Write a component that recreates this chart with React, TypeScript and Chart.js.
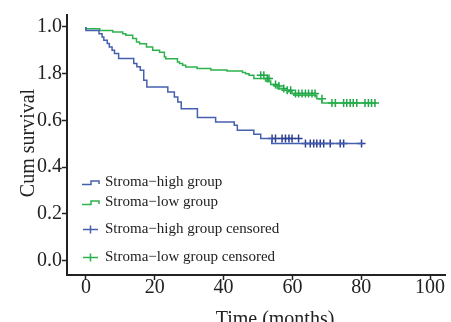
import React, { useEffect, useRef } from "react";
import { Chart, registerables } from "chart.js";
Chart.register(...registerables);

// Kaplan-Meier step data (time in months, cumulative survival)
const highTimes = [0, 3.8, 4.7, 5.2, 6.2, 6.8, 7.6, 8.3, 9.5, 13.9, 14.8, 15.8, 16.8, 17.7, 23.8, 25.7, 26.7, 27.7, 32.4, 37.7, 43.1, 44.0, 48.8, 50.8, 54.0, 62.5, 80.6];
const highSurv = [1.0, 0.985, 0.971, 0.957, 0.943, 0.929, 0.914, 0.9, 0.886, 0.865, 0.843, 0.829, 0.815, 0.772, 0.743, 0.721, 0.7, 0.679, 0.65, 0.612, 0.593, 0.579, 0.558, 0.541, 0.522, 0.501, 0.501];
const lowTimes = [0, 4.0, 7.8, 10.7, 11.6, 13.6, 14.7, 15.6, 17.6, 19.4, 21.4, 22.8, 23.2, 26.6, 27.2, 28.1, 29.0, 32.3, 36.3, 41.0, 45.5, 46.4, 47.4, 48.8, 52.2, 53.7, 54.6, 55.6, 57.0, 58.5, 59.9, 60.4, 67.1, 68.6, 70.5, 84.0];
const lowSurv = [1.0, 0.992, 0.985, 0.978, 0.971, 0.964, 0.95, 0.935, 0.928, 0.914, 0.9, 0.892, 0.871, 0.864, 0.85, 0.843, 0.836, 0.828, 0.822, 0.816, 0.811, 0.805, 0.8, 0.793, 0.779, 0.768, 0.754, 0.747, 0.736, 0.729, 0.722, 0.715, 0.707, 0.693, 0.674, 0.674];
const highCensorTimes = [54.1, 55.1, 57.0, 58.0, 59.0, 59.9, 61.8, 63.8, 65.2, 66.2, 67.1, 68.1, 69.1, 71.0, 73.9, 74.9, 80.1];
const lowCensorTimes = [50.8, 51.7, 52.7, 53.2, 55.1, 56.1, 57.5, 58.5, 59.5, 60.9, 61.8, 62.8, 63.8, 64.7, 65.7, 66.6, 68.6, 71.5, 72.5, 74.9, 75.8, 76.8, 77.7, 78.7, 81.1, 82.1, 83.0, 84.0];

const xTickValues = [0, 20, 40, 60, 80, 100];
const yTickValues = [0, 0.2, 0.4, 0.6, 0.8, 1.0];
const yTickLabels = ["0.0", "0.2", "0.4", "0.6", "1.8", "1.0"];

const legendLabels = [
  "Stroma\u2212high group",
  "Stroma\u2212low group",
  "Stroma\u2212high group censored",
  "Stroma\u2212low group censored",
];
const xTitle = "Time (months)";
const yTitle = "Cum survival";

const BLUE = "#4560b0";
const GREEN = "#2db24e";
const BLUE_DARK = "#2c3f92";
const GREEN_DARK = "#1fa648";
const SERIF = "'Liberation Serif', 'Times New Roman', serif";

function survAt(times: number[], surv: number[], t: number) {
  let v = surv[0];
  for (let i = 0; i < times.length; i++) if (times[i] <= t) v = surv[i];
  return v;
}

const overlayPlugin = {
  id: "overlay",
  afterDraw(chart: any) {
    const ctx = chart.ctx;
    ctx.save();
    ctx.fillStyle = "#222";
    // axis titles
    ctx.font = `20px ${SERIF}`;
    ctx.textAlign = "center";
    ctx.textBaseline = "alphabetic";
    ctx.fillText(xTitle, 275, 325);
    ctx.save();
    ctx.translate(33.5, 143);
    ctx.rotate(-Math.PI / 2);
    ctx.fillText(yTitle, 0, 0);
    ctx.restore();
    // legend
    const rows = [182.5, 202.5, 229.5, 257.5];
    const colors = [BLUE, GREEN, BLUE, GREEN];
    ctx.font = `15px ${SERIF}`;
    ctx.textAlign = "left";
    ctx.textBaseline = "middle";
    rows.forEach((y, i) => {
      ctx.strokeStyle = colors[i];
      ctx.lineWidth = 1.5;
      ctx.beginPath();
      if (i < 2) {
        ctx.moveTo(82, y + 2);
        ctx.lineTo(91, y + 2);
        ctx.lineTo(91, y - 1.5);
        ctx.lineTo(99, y - 1.5);
        ctx.lineTo(99, y + 1.5);
      } else {
        ctx.moveTo(83, y);
        ctx.lineTo(98, y);
        ctx.moveTo(90.5, y - 4);
        ctx.lineTo(90.5, y + 4);
      }
      ctx.stroke();
      ctx.fillStyle = "#222";
      ctx.fillText(legendLabels[i], 105, y);
    });
    ctx.restore();
  },
};

export default function App() {
  const ref = useRef<HTMLCanvasElement | null>(null);
  useEffect(() => {
    document.body.style.margin = "0";
    const highLine = highTimes.map((t, i) => ({ x: t, y: highSurv[i] }));
    const lowLine = lowTimes.map((t, i) => ({ x: t, y: lowSurv[i] }));
    const highCens = highCensorTimes.map((t) => ({ x: t, y: survAt(highTimes, highSurv, t) }));
    const lowCens = lowCensorTimes.map((t) => ({ x: t, y: survAt(lowTimes, lowSurv, t) }));
    const chart = new Chart(ref.current!, {
      type: "scatter",
      data: {
        datasets: [
          { data: highLine, showLine: true, stepped: "after", borderColor: BLUE, borderWidth: 1.5, pointRadius: 0, fill: false },
          { data: lowLine, showLine: true, stepped: "after", borderColor: GREEN, borderWidth: 1.5, pointRadius: 0, fill: false },
          { data: highCens, showLine: false, pointStyle: "cross", pointRadius: 4, borderColor: BLUE_DARK, borderWidth: 1.5 },
          { data: lowCens, showLine: false, pointStyle: "cross", pointRadius: 4, borderColor: GREEN_DARK, borderWidth: 1.5 },
        ],
      },
      options: {
        animation: false,
        responsive: false,
        maintainAspectRatio: false,
        layout: { padding: { left: 0, right: 4, top: 15, bottom: 0 } },
        plugins: { legend: { display: false }, tooltip: { enabled: false } },
        scales: {
          x: {
            type: "linear",
            min: -5.5,
            max: 104.5,
            afterBuildTicks: (s: any) => { s.ticks = xTickValues.map((v) => ({ value: v })); },
            afterFit: (s: any) => { s.height = 47; },
            grid: { drawOnChartArea: false, drawTicks: true, tickLength: 5, tickColor: "#222", tickWidth: 1.5 },
            border: { display: true, color: "#222", width: 2 },
            ticks: { color: "#222", font: { family: SERIF, size: 20 }, padding: -4, maxRotation: 0, autoSkip: false },
          },
          y: {
            type: "linear",
            min: -0.062,
            max: 1.051,
            afterBuildTicks: (s: any) => { s.ticks = yTickValues.map((v) => ({ value: v })); },
            afterFit: (s: any) => { s.width = 67; },
            grid: { drawOnChartArea: false, drawTicks: true, tickLength: 5, tickColor: "#222", tickWidth: 1.5 },
            border: { display: true, color: "#222", width: 2 },
            ticks: {
              color: "#222",
              font: { family: SERIF, size: 20 },
              padding: 0,
              autoSkip: false,
              callback: (v: any) => {
                const idx = yTickValues.findIndex((t) => Math.abs(t - v) < 1e-6);
                return idx >= 0 ? yTickLabels[idx] : "";
              },
            },
          },
        },
      },
      plugins: [overlayPlugin],
    });
    return () => chart.destroy();
  }, []);
  return (
    <div style={{ width: 451, height: 322, background: "#fff" }}>
      <canvas ref={ref} width={451} height={322} style={{ display: "block" }} />
    </div>
  );
}
